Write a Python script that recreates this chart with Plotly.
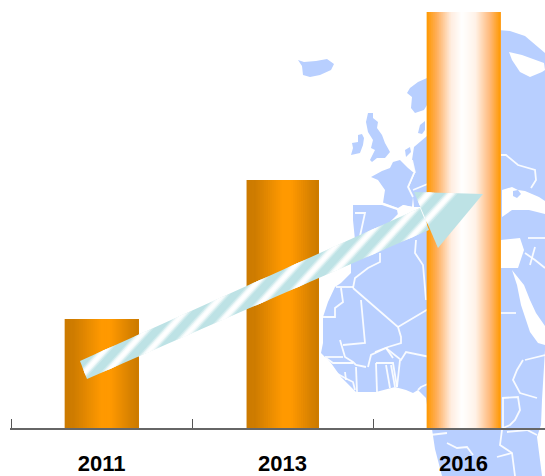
import plotly.graph_objects as go

# ---------- data ----------
years = ["2011", "2013", "2016"]
values = [109, 248, 416]
bar_widths = [0.408, 0.398, 0.408]

# ---------- canvas ----------
W, H = 545, 476
M_L, M_B = 10, 48
PW, PH = W - M_L, H - M_B
MAP_BLUE = "#B8CFFF"
STRIPE = "#BDE2E5"


def hex2rgb(h):
    return tuple(int(h[i:i + 2], 16) for i in (1, 3, 5))


def ramp(stops, t):
    for (a, ca), (b, cb) in zip(stops, stops[1:]):
        if a <= t <= b:
            f = (t - a) / (b - a)
            A, B = hex2rgb(ca), hex2rgb(cb)
            return "rgb(%d,%d,%d)" % tuple(round(A[i] + (B[i] - A[i]) * f) for i in range(3))
    return stops[-1][1]


DARK = [(0, "#CC7A00"), (0.12, "#CE7C00"), (0.5, "#FF9900"), (0.62, "#FF9900"), (0.88, "#D98200"), (1, "#CC7A00")]
LIGHT = [(0, "#FF9900"), (0.14, "#FFAF5C"), (0.33, "#FFEDE0"), (0.48, "#FFFFFF"), (0.66, "#FFF2E8"),
         (0.86, "#FFB878"), (1, "#FF9900")]
gradients = [DARK, DARK, LIGHT]

# ---------- decorative map (pixel coordinates of the page) ----------
land = [
    [(298, 60), (304, 62), (316, 61), (327, 59), (334, 64), (331, 70), (320, 75), (310, 77), (303, 75), (302, 66)],
    [(427, 78), (418, 82), (410, 88), (407, 93), (412, 97), (411, 108), (415, 113), (424, 110), (430, 100), (430, 78)],
    [(368, 113), (373, 113), (373, 118), (378, 122), (377, 128), (382, 135), (385, 143), (390, 152), (385, 158),
     (377, 158), (372, 162), (370, 160), (375, 150), (371, 148), (373, 140), (368, 132), (366, 122)],
    [(352, 143), (358, 142), (358, 135), (362, 134), (364, 138), (363, 145), (360, 153), (351, 155), (353, 148)],
    [(393, 162), (400, 160), (408, 168), (414, 173), (408, 187), (413, 197), (412, 207), (403, 205), (398, 208),
     (383, 203), (385, 190), (378, 180), (371, 177), (382, 171), (390, 168)],
    [(353, 205), (382, 205), (397, 210), (398, 215), (387, 225), (385, 228), (373, 240), (355, 240), (353, 220)],
    [(405, 150), (410, 147), (411, 152), (406, 157)],
    [(418, 133), (420, 125), (425, 121), (425, 130), (422, 134)],
    [(414, 147), (427, 136), (432, 136), (432, 207), (414, 207), (413, 197), (409, 187), (415, 173), (412, 160)],
    # Russia, Ukraine, Turkey and the east
    [(498, 30), (510, 31), (525, 36), (545, 53), (545, 240), (500, 240)],
    # Africa
    [(351, 262), (351, 273), (341, 283), (335, 287), (328, 302), (323, 317), (323, 343), (321, 353), (331, 363),
     (341, 377), (356, 392), (376, 392), (395, 387), (406, 390), (413, 393), (418, 390), (426, 398), (430, 425),
     (432, 429), (435, 449), (442, 476), (542, 476), (540, 460), (537, 437), (541, 425), (542, 400), (545, 350),
     (545, 238), (500, 238), (430, 225), (400, 235), (360, 250)],
]
water = [
    [(509, 52), (522, 55), (544, 63), (545, 70), (542, 72), (530, 77), (520, 72), (512, 60)],
    [(502, 190), (512, 187), (518, 190), (525, 191), (539, 197), (545, 201), (545, 214), (529, 210), (512, 210),
     (502, 217)],
    [(501, 240), (520, 238), (524, 250), (520, 262), (518, 268), (501, 268)],
    [(512, 270), (524, 285), (530, 300), (536, 313), (545, 326), (545, 345), (538, 343), (530, 332), (526, 320),
     (521, 305), (517, 285)],
    [(430, 207), (414, 207), (403, 205), (398, 214), (387, 225), (390, 235), (430, 222)],
]
islands = [[(513, 191), (518, 190), (521, 194), (517, 198), (513, 196)]]
borders = [
    [(380, 253), (380, 262), (368, 268), (355, 278), (353, 288)],
    [(353, 288), (398, 327), (401, 337), (401, 343), (388, 347), (375, 352)],
    [(398, 327), (430, 308)],
    [(336, 287), (353, 287)],
    [(341, 288), (343, 302), (335, 308), (335, 317), (323, 317)],
    [(361, 300), (365, 343), (343, 345)],
    [(416, 240), (415, 253), (423, 265), (426, 300)],
    [(325, 357), (343, 357)],
    [(340, 340), (345, 357), (353, 362), (356, 365), (366, 367)],
    [(368, 367), (371, 355), (386, 348), (401, 360), (406, 352), (430, 357)],
    [(386, 348), (393, 358)],
    [(376, 363), (393, 363), (397, 387)],
    [(376, 363), (377, 392)],
    [(386, 365), (390, 388)],
    [(391, 365), (395, 387)],
    [(400, 360), (397, 387)],
    [(356, 367), (357, 392)],
    [(336, 373), (345, 378), (353, 382), (355, 390)],
    [(345, 372), (346, 380)],
    [(326, 358), (333, 363), (353, 363)],
    [(418, 390), (421, 387), (430, 383)],
    [(355, 213), (365, 213), (360, 236)],
    [(382, 203), (398, 209)],
    [(414, 173), (408, 187), (413, 197)],
    [(413, 190), (430, 183)],
    [(412, 160), (415, 173)],
    [(501, 155), (506, 155), (518, 165), (535, 170), (536, 180), (531, 188)],
    [(501, 313), (516, 313)],
    [(528, 238), (545, 238)],
    [(525, 253), (535, 260), (545, 268)],
    [(535, 247), (530, 265)],
    [(523, 360), (517, 370), (513, 380), (520, 393), (537, 398)],
    [(502, 398), (518, 397), (520, 410), (515, 420), (510, 425), (503, 428)],
    [(503, 398), (503, 428)],
    [(507, 432), (527, 430), (537, 435)],
    [(502, 430), (500, 445), (512, 453), (515, 476)],
    [(497, 457), (512, 453)],
    [(430, 435), (447, 433)],
    [(447, 443), (457, 448), (467, 447), (473, 455)],
    [(525, 360), (545, 355)],
]

# ---------- decorative arrow ----------
shaft = [(87, 379), (80, 361), (420, 208), (429, 230)]
head = [(414, 192), (483, 194), (438, 248)]
STRIPE_FIRST, STRIPE_STEP, STRIPE_COUNT = 423, 22.67, 10
STRIPE_SLOPE = 1 / 1.1
layers = [(6.5, 0.25), (4.8, 0.5), (3.2, 0.75), (1.5, 1.0)]


def px(x, y):
    return (x - M_L) / PW, (H - M_B - y) / PH


def path(pts, close=True):
    s = "M" + " L".join("%.5f,%.5f" % px(*p) for p in pts)
    return s + (" Z" if close else "")


def clip_band(poly, lo, hi):
    """clip polygon to lo <= x + k*y <= hi"""
    def clip(p, f):
        out = []
        for i, a in enumerate(p):
            b = p[(i + 1) % len(p)]
            fa, fb = f(a), f(b)
            if fa >= 0:
                out.append(a)
            if fa * fb < 0:
                t = fa / (fa - fb)
                out.append((a[0] + (b[0] - a[0]) * t, a[1] + (b[1] - a[1]) * t))
        return out
    v = lambda q: q[0] + STRIPE_SLOPE * q[1]
    p = clip(poly, lambda q: v(q) - lo)
    if p:
        p = clip(p, lambda q: hi - v(q))
    return p


shapes = []
for poly in land:
    shapes.append(dict(type="path", xref="paper", yref="paper", path=path(poly), fillcolor=MAP_BLUE,
                       line=dict(width=0), layer="below"))
for poly in water:
    shapes.append(dict(type="path", xref="paper", yref="paper", path=path(poly), fillcolor="white",
                       line=dict(width=0), layer="below"))
for poly in islands:
    shapes.append(dict(type="path", xref="paper", yref="paper", path=path(poly), fillcolor=MAP_BLUE,
                       line=dict(width=0), layer="below"))
for ln in borders:
    shapes.append(dict(type="path", xref="paper", yref="paper", path=path(ln, False),
                       line=dict(color="rgba(255,255,255,0.9)", width=1.8), layer="below"))

for poly in (shaft, head):
    shapes.append(dict(type="path", xref="paper", yref="paper", path=path(poly), fillcolor=STRIPE,
                       line=dict(width=0), layer="above"))
    for k in range(STRIPE_COUNT):
        c = STRIPE_FIRST + k * STRIPE_STEP
        for hw, a in layers:
            p = clip_band(poly, c - hw, c + hw)
            if len(p) >= 3:
                shapes.append(dict(type="path", xref="paper", yref="paper", path=path(p),
                                   fillcolor="rgba(255,255,255,%.2f)" % a if a < 1 else "white",
                                   line=dict(width=0), layer="above"))

# ---------- bars ----------
fig = go.Figure()
N = 37
for yr, val, bw, grad in zip(years, values, bar_widths, gradients):
    offs = [-bw / 2 + bw * i / N for i in range(N)]
    fig.add_trace(go.Bar(
        x=[yr] * N, y=[val] * N,
        offset=offs,
        width=[bw / 2 - o for o in offs],
        marker=dict(color=[ramp(grad, (i + 0.5) / N) for i in range(N)], line=dict(width=0)),
        hoverinfo="skip", showlegend=False,
    ))

fig.update_layout(
    width=W, height=H, autosize=False,
    margin=dict(l=M_L, r=0, t=0, b=M_B, pad=0),
    paper_bgcolor="white", plot_bgcolor="rgba(0,0,0,0)",
    barmode="overlay", showlegend=False, shapes=shapes,
    xaxis=dict(type="category", categoryorder="array", categoryarray=years, range=[-0.506, 2.45],
               tickson="boundaries", ticks="inside", ticklen=9, tickwidth=1, tickcolor="#555555",
               showline=True, linecolor="#666666", linewidth=1.5, showgrid=False, zeroline=False,
               automargin=False, ticklabelstandoff=15,
               tickfont=dict(family="Liberation Sans Narrow, Liberation Sans", size=22, color="black", weight="bold")),
    yaxis=dict(range=[0, PH], visible=False, showgrid=False, zeroline=False, automargin=False),
)
fig.write_html("out.html", config=dict(displayModeBar=False),
               post_script="document.body.style.margin='0';document.documentElement.style.overflow='hidden';")
